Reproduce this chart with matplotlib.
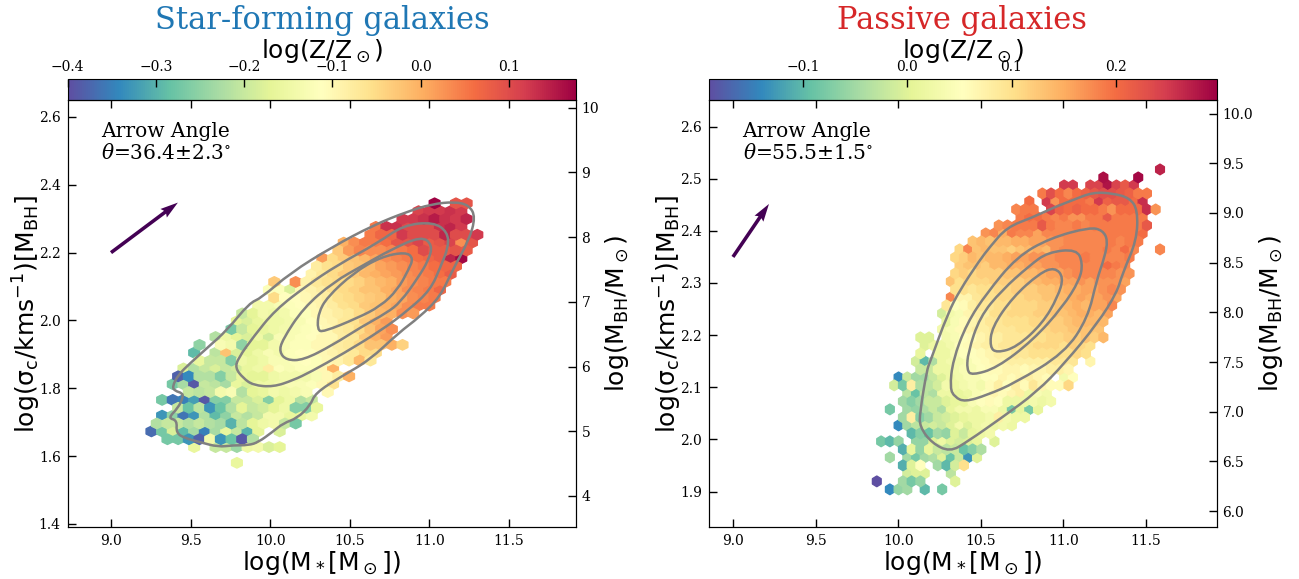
import numpy as np
import matplotlib
matplotlib.use('Agg')
import matplotlib.pyplot as plt
from matplotlib.cm import ScalarMappable
from matplotlib.colors import Normalize
from matplotlib.patches import PathPatch
from matplotlib.path import Path

n = np.nan

# hexbin cells, one list per row of the hex grid
sf_mass0, sf_dmass = 9.7906, 0.0671
sf_sig0, sf_dsig = 1.5802, 0.02319
sf_row_start = [0, 0, -4, -7, -8, -8, -7, -6, -7, -5, -6, -6, -5, -4, -4, -4, -2,
                -1, 0, 0, 2, 3, 3, 3, 7, 7, 8, 9, 10, 12, 13, 15, 17, 18]
sf_row_z = [
    [-.16],
    [],
    [-.16, n, -.2, -.2, -.24, -.15, -.14, -.18, -.17],
    [-.27, -.27, -.33, -.38, -.14, -.33, -.28, -.39, -.22],
    [-.37, -.27, -.18, -.29, -.23, -.35, -.23, -.16, -.2, -.3, -.17, n, -.18],
    [-.22, -.2, -.2, -.22, -.2, -.22, -.23, -.3, -.21, -.17, -.15, -.14, -.2, -.27],
    [-.33, -.25, -.36, -.33, -.22, -.29, -.25, -.2, -.22, -.2, -.14, -.14, -.16, -.16, -.14],
    [-.2, -.28, -.21, -.33, -.28, -.22, -.17, -.2, -.19, -.17, -.15, -.26, -.26, -.16],
    [-.27, -.36, -.35, -.32, -.39, -.26, -.26, -.2, -.2, -.18, -.26, -.17, -.15, -.22, -.2],
    [-.2, -.21, -.2, -.14, -.13, -.22, -.17, -.16, -.14, -.15, -.14, -.13, n, -.1],
    [-.27, -.23, -.39, -.2, -.21, -.23, -.16, -.18, -.15, -.15, -.14, -.13, -.13, -.12, -.1, -.06],
    [-.38, -.34, -.22, -.22, -.26, -.2, -.16, -.17, -.17, -.15, -.14, -.14, -.14, -.13, -.1, -.08, 0.],
    [-.18, -.22, -.2, -.18, -.2, -.19, -.16, -.15, -.08, -.12, -.13, -.12, -.12, -.1, 0.],
    [-.16, -.2, -.2, -.26, -.15, -.16, -.15, -.13, -.13, -.12, -.11, -.12, -.1, -.09, -.07, -.01, -.07],
    [-.29, n, -.21, -.02, -.18, -.17, -.15, -.13, -.14, -.12, -.11, -.11, -.1, -.09, -.08, -.07, -.05, -.05],
    [-.25, n, -.13, -.14, -.25, -.17, -.17, -.14, -.13, -.12, -.12, -.1, -.1, -.08, -.07, -.05, -.02, -.02, 0., -.04],
    [-.22, -.15, -.17, -.18, -.15, -.19, -.13, -.13, -.12, -.11, -.1, -.1, -.08, -.07, -.03, 0., .02],
    [-.27, -.2, -.17, -.16, -.15, -.14, -.13, -.12, -.11, -.1, -.08, -.07, -.05, -.02, .01, .03],
    [-.17, -.18, -.16, -.15, -.15, -.14, -.13, -.11, -.1, -.09, -.07, -.06, -.03, 0., .02],
    [-.2, -.17, -.14, -.15, -.14, -.12, -.12, -.1, -.09, -.08, -.07, -.05, -.03, -.01, 0., .03, .02],
    [-.14, -.14, -.13, -.12, -.11, -.1, -.09, -.08, -.06, -.05, -.03, -.02, 0., .01, .03, .05, .05],
    [-.05, -.11, -.11, -.1, -.09, -.08, -.06, -.05, -.04, -.03, -.02, 0., .01, .03, .04, .05],
    [-.12, -.12, -.18, -.1, -.09, -.08, -.06, -.05, -.04, -.02, -.02, 0., .01, .03, .04, .05, .07],
    [-.03, n, .03, -.09, -.07, -.06, -.05, -.05, -.04, -.02, -.01, 0., .02, .03, .04, .05, .05],
    [-.09, -.07, -.05, -.03, -.03, -.01, 0., .01, .02, .03, .04, .05, .06, .08],
    [-.08, -.06, -.05, -.03, -.02, -.01, .01, .02, .03, .04, .05, .06, .07, .07],
    [.02, -.05, -.03, -.02, -.01, .01, .03, .04, .05, .06, .07, .08, .14, .17],
    [-.03, .02, .04, .03, .03, .04, .05, .06, .1, .08, .08, .09, .08],
    [0., .03, .05, .05, .06, .09, .09, .11, .08, .09, .11, .03, .09],
    [.05, .07, .07, .12, .1, .1, .1, .14, .1, .1, .12],
    [.05, .13, .13, .1, .1, .1, .13, .14, .12],
    [.12, .12, .13, .15, .13, .12, .14],
    [.11, .12, .12, .13, .12],
    [.175, n, .09, .09],
]

sf_contour_mass = [
    [9.73, 9.604, 9.497, 9.421, 9.384, 9.403, 9.447, 9.453, 9.421, 9.358, 9.415, 9.409, 9.465, 9.56, 9.673, 9.767,
     9.862, 9.925, 10.013, 10.082, 10.17, 10.252, 10.283, 10.44, 10.623, 10.805, 10.937, 11.066, 11.145, 11.248,
     11.289, 11.248, 11.157, 11.013, 10.855, 10.648, 10.39, 10.126, 9.943, 9.868],
    [9.799, 9.893, 10.031, 10.233, 10.421, 10.673, 10.836, 11.025, 11.113, 11.119, 11.069, 11.006, 10.868, 10.701,
     10.465, 10.252, 10.145, 10.019, 9.893, 9.83, 9.78],
    [10.075, 10.208, 10.396, 10.585, 10.755, 10.95, 11.019, 10.994, 10.931, 10.818, 10.73, 10.572, 10.39, 10.208,
     10.101, 10.057],
    [10.302, 10.358, 10.522, 10.692, 10.849, 10.899, 10.868, 10.799, 10.692, 10.547, 10.333, 10.296],
]
sf_contour_sig = [
    [1.972, 1.919, 1.874, 1.839, 1.804, 1.792, 1.786, 1.774, 1.742, 1.712, 1.706, 1.668, 1.653, 1.641, 1.627, 1.632,
     1.632, 1.641, 1.671, 1.697, 1.712, 1.75, 1.786, 1.833, 1.883, 1.963, 2.01, 2.069, 2.149, 2.237,
     2.305, 2.34, 2.35, 2.343, 2.32, 2.281, 2.217, 2.14, 2.066, 2.051],
    [1.889, 1.951, 2.031, 2.104, 2.163, 2.228, 2.281, 2.29, 2.261, 2.217, 2.158, 2.09, 2.031, 1.972,
     1.904, 1.848, 1.824, 1.804, 1.809, 1.83, 1.86],
    [1.942, 2.037, 2.113, 2.163, 2.208, 2.249, 2.222, 2.178, 2.128, 2.054, 2.022, 1.981, 1.927, 1.883,
     1.883, 1.907],
    [2.022, 2.069, 2.14, 2.187, 2.202, 2.184, 2.149, 2.09, 2.042, 2.007, 1.966, 1.972],
]

pa_mass0, pa_dmass = 9.9498, 0.05275
pa_sig0, pa_dsig = 1.9042, 0.01534
pa_row_start = [0, -2, 2, 1, 0, 1, -1, 2, 1, 1, 0, 1, 2, 0, 1, 3, 3, 3, 4, 3, 6,
                6, 6, 6, 7, 7, 7, 7, 8, 7, 8, 9, 11, 12, 15, 14, 16, 17, 20, 24, 31]
pa_row_z = [
    [-.14, -.06, -.05, n, -.1, n, -.08],
    [-.19, n, n, -.05, -.08, -.06, n, n, n, 0.],
    [-.01, 0., 0., n, n, -.03],
    [-.11, 0., .05, n, -.05, -.1, -.01, .1],
    [-.05, n, -.05, -.08, -.05, -.04, 0., -.09, -.02, -.13, 0.],
    [-.11, .01, -.06, .01, -.02, -.03, -.02, -.09, -.07, -.04],
    [-.08, -.1, -.06, n, -.06, -.06, 0., .02, 0., -.01, 0., .01, n, 0.],
    [-.1, -.07, -.09, -.05, -.06, 0., -.02, .01, .02, .03],
    [-.14, -.05, -.03, -.02, -.01, -.02, 0., .03, 0., .02, .03, .02, .03, .02],
    [-.05, .08, -.07, -.05, -.02, -.01, 0., .01, .02, .02, .03, .08, .03, .02, .02],
    [-.08, n, -.05, -.06, -.04, -.02, -.04, .01, .03, .03, .02, .04, .04, .02, -.08, .01, -.08, .01],
    [-.05, -.07, -.05, -.02, -.02, 0., .01, .01, .04, .05, .06, .05, .02, .02, .02, .03, .02, .03],
    [-.03, -.09, -.03, -.04, .02, .02, .01, .02, .04, .05, .07, .06, .07, .08, .02, .04, .03],
    [-.01, -.08, .08, -.04, -.03, -.01, .03, .02, .03, .04, .03, .06, .08, .05, .08, .06, .09, .07, .06, .06, .11],
    [-.14, -.02, -.05, -.05, -.02, 0., .02, .03, .04, .04, .05, .05, .07, .06, .07, .08, .07, .06, n, .03, .05],
    [-.02, -.02, .02, .02, .03, .04, .04, .05, .06, .06, .07, .07, .06, .07, .07, .08, .08, .07],
    [-.01, -.1, -.04, .02, .03, .03, .04, .05, .06, .07, .07, .08, .08, .08, .08, .08, .09, .09, .09, n, .07],
    [.01, n, .02, .02, .04, .05, .05, .06, .07, .08, .08, .09, .09, .1, .1, .1, .1, .1, .11, .1],
    [0., .02, .02, .03, .05, .06, .07, .08, .08, .09, .09, .1, .1, .11, .11, .11, .1, .12, .11, .1],
    [0., 0., n, .03, .04, .05, .06, .07, .08, .08, .09, .09, .09, .1, .1, .11, .11, .12, .12, .13, .12, .14],
    [.03, .04, .06, .07, .08, .08, .09, .09, .09, .1, .1, .1, .11, .12, .12, .13, .13, .13, .13],
    [.01, .04, .06, .07, .08, .09, .09, .1, .1, .1, .11, .11, .12, .12, .13, .14, .14, .14, .14],
    [-.01, .03, .04, .07, .08, .08, .1, .1, .11, .11, .11, .12, .12, .13, .13, .14, .15, .15, .14, .16],
    [.09, .05, .06, .08, .09, .09, .1, .1, .11, .11, .11, .12, .12, .13, .14, .15, .14, .16, .16, .18],
    [.18, .07, .07, .09, .1, .1, .11, .11, .11, .12, .12, .13, .13, .14, .15, .16, .15, .16, .17, .16],
    [.1, .1, .09, .1, .1, .11, .11, .12, .12, .12, .13, .13, .14, .15, .15, .16, .16, .17, .18, .17],
    [.13, .1, .11, .11, .11, .12, .12, .12, .12, .13, .14, .15, .15, .16, .16, .17, .16, .17, .17, .17, .16],
    [.11, .12, .11, .12, .12, .12, .13, .13, .14, .14, .15, .16, .16, .17, .18, .18, .18, .18, .18, .17, .17],
    [.12, .13, .13, .12, .14, .14, .15, .15, .16, .16, .17, .17, .18, .18, .18, .18, .18, .2, .19, .18],
    [.11, .12, .14, .13, .14, .14, .15, .16, .16, .17, .17, .17, .18, .18, .18, .19, .18, .18, .18, .18, .19],
    [.11, .18, .13, .14, .13, .13, .12, .13, .14, .15, .14, .17, .18, .18, .18, .18, .18, .19, .18, .2, .18, n, n, .18],
    [.13, .14, .13, .14, .14, .15, .15, .16, .16, .17, .17, .18, .18, .18, .18, .18, .19, .18, .19, .19],
    [.17, .18, .15, .19, .18, .18, .16, .18, .18, .18, .18, .18, .18, .18, .19, .19, .19, .19, .2],
    [.17, .18, .19, .19, .19, .22, .19, .18, .18, .19, .18, .19, .19, .19, .19, .19, .19, .22],
    [.19, .2, .2, .19, .18, .19, .17, .17, .19, .19, .22, .19, .19, .19, .19],
    [.18, .19, .19, n, .24, .21, .2, .21, .2, .2, .19, .17, .2, .2, .2, .26, .17],
    [.2, n, .25, .17, .2, .2, .2, .19, .25, .21, .22, .22, .2, .26],
    [.19, .23, .2, .18, .2, .21, .22, .23, .23, .22, .21, .19, .19],
    [.25, .25, n, .24, .24, .28, .24, .22, .25],
    [.285, n, n, n, .29],
    [.27],
]

pa_contour_mass = [
    [11.178, 11.299, 11.402, 11.45, 11.444, 11.359, 11.323, 11.208, 11.008, 10.839, 10.633, 10.416, 10.313, 10.204,
     10.131, 10.131, 10.174, 10.192, 10.301, 10.373, 10.494, 10.555, 10.658, 10.815, 10.936, 11.057],
    [10.313, 10.331, 10.416, 10.537, 10.718, 10.918, 11.16, 11.238, 11.269, 11.25, 11.202, 11.148, 11.008, 10.706,
     10.537, 10.404, 10.343],
    [10.422, 10.494, 10.627, 10.797, 10.906, 11.081, 11.117, 11.099, 10.996, 10.815, 10.597, 10.446, 10.416],
    [10.567, 10.694, 10.857, 10.948, 11.002, 10.966, 10.875, 10.718, 10.597, 10.555],
]
pa_contour_sig = [
    [2.474, 2.472, 2.463, 2.44, 2.382, 2.319, 2.281, 2.223, 2.146, 2.091, 2.043, 1.995, 1.976, 1.993,
     2.024, 2.051, 2.133, 2.148, 2.242, 2.286, 2.344, 2.369, 2.407, 2.426, 2.444, 2.459],
    [2.098, 2.152, 2.223, 2.281, 2.35, 2.386, 2.407, 2.401, 2.382, 2.35, 2.306, 2.233, 2.166, 2.108,
     2.085, 2.072, 2.081],
    [2.166, 2.235, 2.286, 2.334, 2.359, 2.365, 2.338, 2.306, 2.254, 2.19, 2.137, 2.123, 2.133],
    [2.215, 2.273, 2.319, 2.33, 2.311, 2.273, 2.223, 2.177, 2.166, 2.177],
]

sf_arrow = (9.0, 2.2, 0.42, 0.1475)
pa_arrow = (9.0, 2.35, 0.218, 0.1016)

xticks = [9.0, 9.5, 10.0, 10.5, 11.0, 11.5]
sf_yticks = [1.4, 1.6, 1.8, 2.0, 2.2, 2.4, 2.6]
pa_yticks = [1.9, 2.0, 2.1, 2.2, 2.3, 2.4, 2.5, 2.6]
sf_bh_ticks = [4, 5, 6, 7, 8, 9, 10]
pa_bh_ticks = [6.0, 6.5, 7.0, 7.5, 8.0, 8.5, 9.0, 9.5, 10.0]
sf_cticks = [-0.4, -0.3, -0.2, -0.1, 0.0, 0.1]
pa_cticks = [-0.1, 0.0, 0.1, 0.2]

W, H = 1299., 579.
LABEL_SIZE = 18
TICK_SIZE = 10


def expand(mass0, dmass, sig0, dsig, starts, rows):
    xs, ys, zs = [], [], []
    for r, (k0, vals) in enumerate(zip(starts, rows)):
        for i, z in enumerate(vals):
            if np.isnan(z):
                continue
            xs.append(mass0 + (k0 + i + 0.5 * (r % 2)) * dmass)
            ys.append(sig0 + r * dsig)
            zs.append(z)
    return xs, ys, zs


def smooth_loop(cx, cy):
    # closed quadratic curve with the read points as control points
    pts = np.column_stack([cx, cy])
    mids = (pts + np.roll(pts, -1, axis=0)) / 2
    verts = [mids[-1]]
    codes = [Path.MOVETO]
    for p, m in zip(pts, mids):
        verts += [p, m]
        codes += [Path.CURVE3, Path.CURVE3]
    return Path(verts, codes)


def panel(px, xlim, ylim, bhlim, clim, data, yticks, bhticks, cticks, contours, arrow):
    left, right = px
    ax = fig.add_axes([left / W, (H - 527) / H, (right - left) / W, 427 / H])
    cax = fig.add_axes([left / W, (H - 100) / H, (right - left) / W, 21.5 / H])

    mass0, dmass, sig0, dsig, starts, rows = data
    xs, ys, zs = expand(mass0, dmass, sig0, dsig, starts, rows)
    # grid is anchored on the first row so each cell lands in its own hexagon
    xmin = mass0 - 10 * dmass
    ax.hexbin(xs, ys, C=zs, gridsize=(50, 30), extent=(xmin, xmin + 50 * dmass, sig0, sig0 + 60 * dsig),
              cmap='Spectral_r', vmin=clim[0], vmax=clim[1])

    for cx, cy in zip(*contours):
        ax.add_patch(PathPatch(smooth_loop(cx, cy), fc='none', ec='grey', lw=1.8, zorder=3))

    ax.quiver(arrow[0], arrow[1], arrow[2], arrow[3], angles='xy', scale_units='xy', scale=1,
              color='#440154', width=0.007, zorder=4)

    ax.set_xlim(xlim)
    ax.set_ylim(ylim)
    ax.set_xticks(xticks)
    ax.set_yticks(yticks)
    ax.tick_params(direction='in', length=6, width=1, top=True, labelsize=TICK_SIZE, pad=5)
    for lab in ax.get_xticklabels() + ax.get_yticklabels():
        lab.set_family('DejaVu Serif')
    ax.set_xlabel(r'$\rm log(M_*[M_\odot])$', fontsize=LABEL_SIZE, labelpad=1)
    ax.set_ylabel(r'$\rm log(\sigma_c/kms^{-1})[M_{BH}]$', fontsize=LABEL_SIZE, labelpad=-3)

    ax2 = ax.twinx()
    ax2.set_ylim(bhlim)
    ax2.set_yticks(bhticks)
    ax2.tick_params(direction='in', length=6, width=1, labelsize=TICK_SIZE, pad=4)
    for lab in ax2.get_yticklabels():
        lab.set_family('DejaVu Serif')
    ax2.set_ylabel(r'$\rm log(M_{BH}/M_\odot)$', fontsize=LABEL_SIZE, labelpad=3)

    sm = ScalarMappable(norm=Normalize(*clim), cmap='Spectral_r')
    cb = fig.colorbar(sm, cax=cax, orientation='horizontal', ticklocation='top')
    cb.set_ticks(cticks)
    cb.ax.tick_params(direction='in', length=6, width=1, labelsize=TICK_SIZE, pad=3)
    for lab in cb.ax.get_xticklabels():
        lab.set_family('DejaVu Serif')
    cb.set_label(r'$\rm log(Z/Z_\odot)$', fontsize=LABEL_SIZE, labelpad=2)

    return ax


fig = plt.figure(figsize=(12.99, 5.79), dpi=100)

ax1 = panel((67.7, 576), (8.728, 11.92), (1.391, 2.65), (3.52, 10.12), (-0.4, 0.176),
            (sf_mass0, sf_dmass, sf_sig0, sf_dsig, sf_row_start, sf_row_z),
            sf_yticks, sf_bh_ticks, sf_cticks, (sf_contour_mass, sf_contour_sig), sf_arrow)
ax2 = panel((709, 1217), (8.855, 11.93), (1.832, 2.651), (5.84, 10.136), (-0.19, 0.297),
            (pa_mass0, pa_dmass, pa_sig0, pa_dsig, pa_row_start, pa_row_z),
            pa_yticks, pa_bh_ticks, pa_cticks, (pa_contour_mass, pa_contour_sig), pa_arrow)

for ax, angle, err in ((ax1, '36.4', '2.3'), (ax2, '55.5', '1.5')):
    ax.text(0.066, 0.9, 'Arrow Angle\n' + r'$\theta$=' + angle + r'$\pm$' + err + r'$^{\circ}$',
            transform=ax.transAxes, family='DejaVu Serif', fontsize=14.5, va='center', linespacing=1.15,
            math_fontfamily='dejavuserif')

fig.text(322 / W, 1 - 20 / H, 'Star-forming galaxies', color='tab:blue', family='DejaVu Serif',
         fontsize=22, ha='center', va='center')
fig.text(962 / W, 1 - 20 / H, 'Passive galaxies', color='tab:red', family='DejaVu Serif',
         fontsize=22, ha='center', va='center')

fig.savefig('out.png', dpi=100)
